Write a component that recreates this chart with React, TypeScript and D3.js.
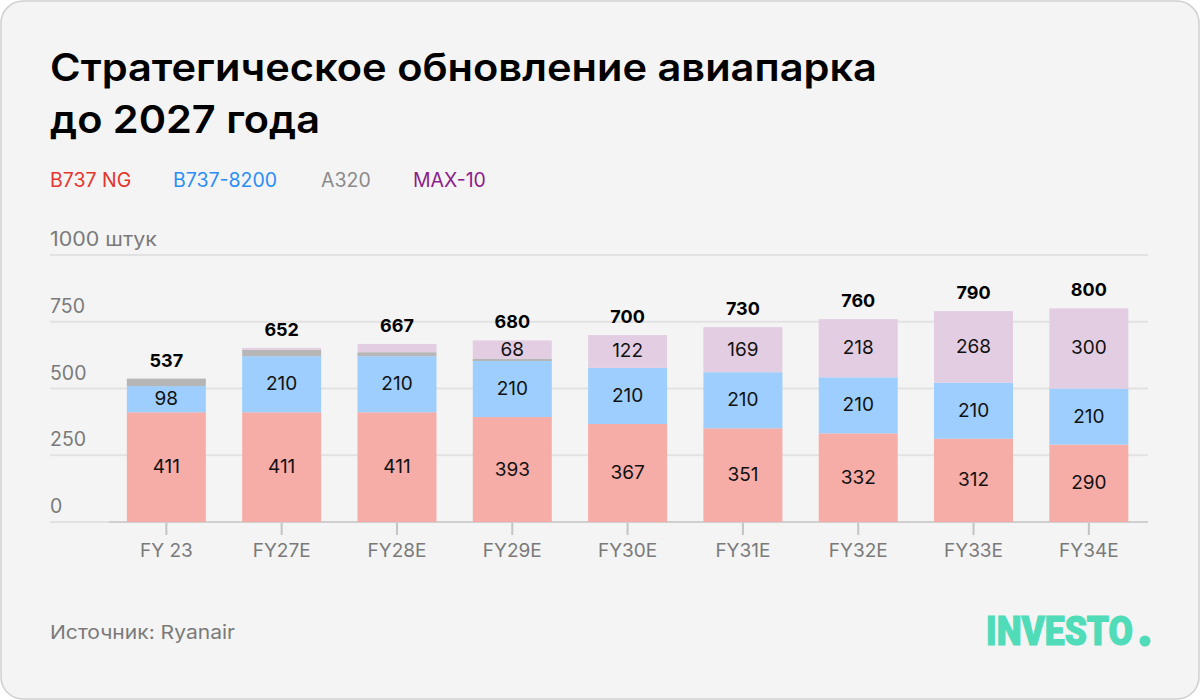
import React from "react";
import * as d3 from "d3";

const categories = ["FY 23", "FY27E", "FY28E", "FY29E", "FY30E", "FY31E", "FY32E", "FY33E", "FY34E"];
const b737ng = [411, 411, 411, 393, 367, 351, 332, 312, 290];
const b7378200 = [98, 210, 210, 210, 210, 210, 210, 210, 210];
const a320 = [28, 24, 15, 9, 1, 0, 0, 0, 0];
const max10 = [0, 7, 31, 68, 122, 169, 218, 268, 300];
const totals = [537, 652, 667, 680, 700, 730, 760, 790, 800];
const yTicks = [0, 250, 500, 750, 1000];
const seriesNames = ["B737 NG", "B737-8200", "A320", "MAX-10"];

const fills = ["#f6aca7", "#9dcefd", "#b6b6b6", "#e3cde2"];
const legendColors = ["#e5362c", "#2b8ef6", "#8a8a8a", "#8c1c8c"];
const FONT = "Inter, 'Noto Sans', sans-serif";

export default function App() {
  const W = 1200, H = 700;
  const y = d3.scaleLinear().domain([0, 1000]).range([522, 255]);
  const x = d3.scaleBand<string>().domain(categories).range([108.7, 1146.5]).paddingInner(0.315).paddingOuter(0.1575);
  const rows = categories.map((c, i) => ({ cat: c, b737ng: b737ng[i], b7378200: b7378200[i], a320: a320[i], max10: max10[i] }));
  const keys = ["b737ng", "b7378200", "a320", "max10"];
  const stack = d3.stack<any>().keys(keys)(rows);
  const legendX = [50, 173, 321, 413];

  return (
    <svg width={W} height={H} style={{ position: "absolute", left: 0, top: 0 }} fontFamily={FONT}>
      <rect x={1} y={1} width={W - 2} height={H - 2} rx={22} fill="#f4f4f4" stroke="#cfcfcf" strokeWidth={1.5} />
      <text x={50} y={81} fontSize={38.5} fontWeight={600} fill="#000" textLength={827} lengthAdjust="spacingAndGlyphs">Стратегическое обновление авиапарка</text>
      <text x={50} y={133} fontSize={38.5} fontWeight={600} fill="#000" textLength={270} lengthAdjust="spacingAndGlyphs">до 2027 года</text>
      {seriesNames.map((n, i) => (
        <text key={n} x={legendX[i]} y={187} fontSize={19.5} fill={legendColors[i]}>{n}</text>
      ))}
      {yTicks.map((t) => (
        <g key={t}>
          <line x1={50} x2={1148} y1={y(t)} y2={y(t)} stroke="#e2e2e2" strokeWidth={2} />
          {t === 1000 ? (
            <text x={50} y={y(t) - 9} fontSize={19.5} fill="#7a7a7a" textLength={107} lengthAdjust="spacingAndGlyphs">1000 штук</text>
          ) : (
            <text x={50} y={y(t) - 9} fontSize={19.5} fill="#7a7a7a">{t}</text>
          )}
        </g>
      ))}
      <line x1={109} x2={1148} y1={y(0)} y2={y(0)} stroke="#cfcfcf" strokeWidth={2} />
      {categories.map((c) => (
        <g key={c}>
          <line x1={x(c)! + x.bandwidth() / 2} x2={x(c)! + x.bandwidth() / 2} y1={523} y2={535} stroke="#c4c4c4" strokeWidth={2} />
          <text x={x(c)! + x.bandwidth() / 2} y={557} fontSize={19} fill="#7a7a7a" textAnchor="middle">{c}</text>
        </g>
      ))}
      {stack.map((s, si) => (
        <g key={s.key}>
          {s.map((d, i) => {
            const h = y(d[0]) - y(d[1]);
            if (h <= 0) return null;
            const v = d[1] - d[0];
            return (
              <g key={i}>
                <rect x={x(categories[i])} y={y(d[1])} width={x.bandwidth()} height={h} fill={fills[si]} />
                {si !== 2 && v >= 50 ? (
                  <text x={x(categories[i])! + x.bandwidth() / 2} y={(y(d[0]) + y(d[1])) / 2 + 6} fontSize={19} textAnchor="middle" fill="#111">{v}</text>
                ) : null}
              </g>
            );
          })}
        </g>
      ))}
      {categories.map((c, i) => (
        <text key={c} x={x(c)! + x.bandwidth() / 2} y={y(totals[i]) - 12} fontSize={18} fontWeight={700} textAnchor="middle" fill="#000">{totals[i]}</text>
      ))}
      <text x={50} y={639} fontSize={19} fill="#7a7a7a" textLength={185} lengthAdjust="spacingAndGlyphs">Источник: Ryanair</text>
      <text x={986} y={645} fontSize={40} fontWeight={900} fill="#50dcb8" stroke="#50dcb8" strokeWidth={1.2} textLength={147} lengthAdjust="spacingAndGlyphs" fontFamily="Roboto, Inter, sans-serif">INVESTO</text>
      <circle cx={1145} cy={641} r={5.5} fill="#50dcb8" />
    </svg>
  );
}
